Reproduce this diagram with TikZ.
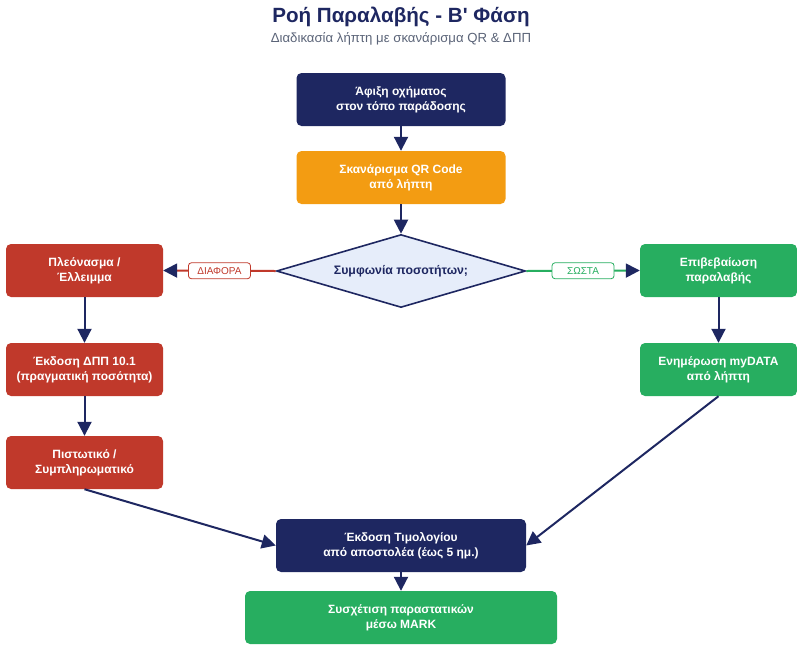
\documentclass[tikz,border=0pt]{standalone}
\usepackage{fontspec}
\setmainfont{Liberation Sans}
\usetikzlibrary{shapes.geometric,arrows.meta}

\definecolor{navy}{HTML}{1E2761}
\definecolor{orangec}{HTML}{F39C12}
\definecolor{redc}{HTML}{C0392B}
\definecolor{greenc}{HTML}{27AE60}
\definecolor{qfill}{HTML}{E6EDFA}
\definecolor{subgray}{HTML}{5B6478}

\begin{document}
\begin{tikzpicture}[x=1pt,y=-1pt,
  box/.style={rectangle, rounded corners=5pt, minimum width=157pt, minimum height=53pt,
    inner sep=2pt, align=center, text=white, font=\fontsize{12}{15}\selectfont\bfseries},
  question/.style={diamond, draw=navy, line width=1.6pt, fill=qfill, aspect=3.4,
    minimum width=249pt, minimum height=73pt, inner sep=0pt, text=navy,
    font=\fontsize{12.3}{15}\selectfont\bfseries},
  flow/.style={draw=navy, line width=2pt, -{Triangle[length=14pt,width=14pt]}},
  branch/.style={line width=2pt, -{Triangle[length=14pt,width=14pt,color=navy]}},
  tag/.style={fill=white, rounded corners=3pt, line width=0.8pt, minimum width=62pt,
    minimum height=16pt, inner sep=1pt, font=\fontsize{10}{12}\selectfont}]

\useasboundingbox (0,0) rectangle (797,646);

% title
\node (title) at (401,17) {\fontsize{20.6}{24}\selectfont\bfseries\color{navy}Ροή Παραλαβής - Β\textquotesingle{} Φάση};
\node (subtitle) at (401,39) {\fontsize{13.2}{15}\selectfont\color{subgray}Διαδικασία λήπτη με σκανάρισμα QR \& ΔΠΠ};

% main column
\node[box, fill=navy, minimum width=209pt] (arrival) at (401,99.5) {Άφιξη οχήματος\\στον τόπο παράδοσης};
\node[box, fill=orangec, minimum width=209pt] (scan) at (401,177.5) {Σκανάρισμα QR Code\\από λήπτη};
\node[question] (check) at (401,271) {Συμφωνία ποσοτήτων;};

% left branch
\node[box, fill=redc] (excess) at (84.5,270.5) {Πλεόνασμα /\\Έλλειμμα};
\node[box, fill=redc] (dpp) at (84.5,369.5) {Έκδοση ΔΠΠ 10.1\\(πραγματική ποσότητα)};
\node[box, fill=redc] (credit) at (84.5,462.5) {Πιστωτικό /\\Συμπληρωματικό};

% right branch
\node[box, fill=greenc] (confirm) at (718.5,270.5) {Επιβεβαίωση\\παραλαβής};
\node[box, fill=greenc] (mydata) at (718.5,369.5) {Ενημέρωση myDATA\\από λήπτη};

% bottom
\node[box, fill=navy, minimum width=250pt] (invoice) at (401,545.5) {Έκδοση Τιμολογίου\\από αποστολέα (έως 5 ημ.)};
\node[box, fill=greenc, minimum width=312pt] (mark) at (401,617.5) {Συσχέτιση παραστατικών\\μέσω MARK};

% connectors
\draw[flow] (arrival) -- (scan);
\draw[flow] (scan) -- (check);
\draw[branch, draw=redc] (check.west) -- node[tag, draw=redc, text=redc] (difftag) {ΔΙΑΦΟΡΑ} (excess.east);
\draw[branch, draw=greenc] (check.east) -- node[tag, draw=greenc, text=greenc] (oktag) {ΣΩΣΤΑ} (confirm.west);
\draw[flow] (excess) -- (dpp);
\draw[flow] (dpp) -- (credit);
\draw[flow] (confirm) -- (mydata);
\draw[flow] (credit.south) -- (invoice.west);
\draw[flow] (mydata.south) -- (invoice.east);
\draw[flow] (invoice) -- (mark);

\end{tikzpicture}
\end{document}
